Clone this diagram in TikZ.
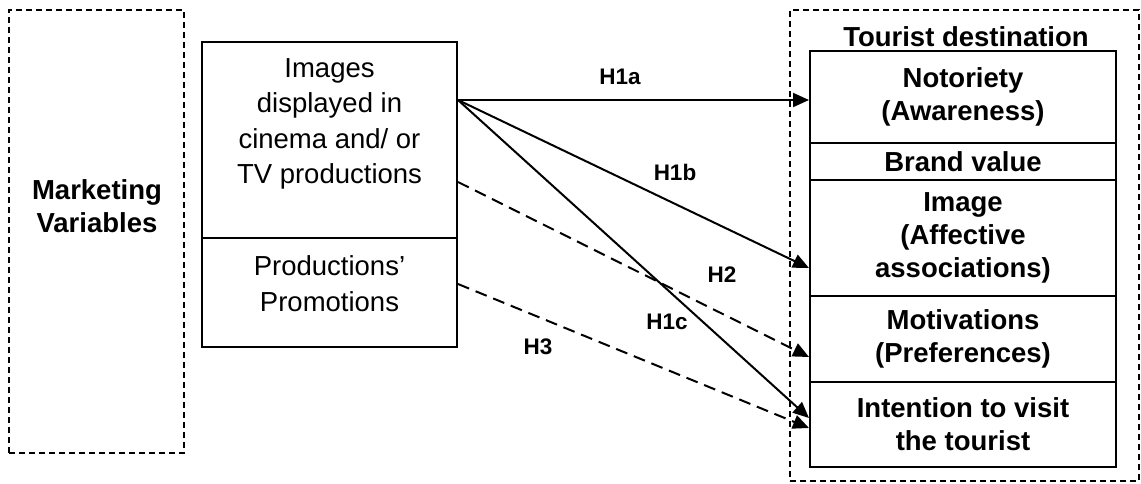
\documentclass[tikz,border=0pt]{standalone}
\usepackage{fontspec}
\setmainfont{Liberation Sans}
\usetikzlibrary{arrows.meta}

\tikzset{
  dashbox/.style={draw, line width=2pt, dash pattern=on 6pt off 4pt, inner sep=0pt},
  varbox/.style={draw, line width=2pt, minimum width=255pt, inner sep=0pt},
  destbox/.style={draw, line width=2pt, minimum width=306pt, inner sep=0pt,
    align=center, font=\bfseries\fontsize{27.5pt}{33pt}\selectfont},
  plaintxt/.style={align=center, inner sep=0pt, font=\fontsize{27.5pt}{35.5pt}\selectfont},
  boldtxt/.style={align=center, inner sep=0pt, font=\bfseries\fontsize{27.5pt}{33pt}\selectfont},
  hyp/.style={line width=2pt, -{Triangle[length=16pt,width=14pt]}},
  weak/.style={hyp, dash pattern=on 12pt off 7pt},
  hlabel/.style={inner sep=0pt, font=\bfseries\fontsize{22.5pt}{22.5pt}\selectfont}
}

\begin{document}
\begin{tikzpicture}[x=1pt, y=-1pt]
  \useasboundingbox (0,0) rectangle (1141,483);

  % marketing variables
  \node[dashbox, minimum width=175pt, minimum height=443pt] (mkt) at (96.5,231.5) {};
  \node[boldtxt] (mkttxt) at (97,206) {Marketing\\Variables};

  \node[varbox, minimum height=196pt] (img) at (329.5,140) {};
  \node[varbox, minimum height=109pt] (prod) at (329.5,292.5) {};
  \node[plaintxt] (imgtxt) at (329.5,124) {Images\\displayed in\\cinema and/ or\\TV productions};
  \node[plaintxt] (prodtxt) at (329.5,283.5) {Productions’\\Promotions};

  % tourist destination
  \node[dashbox, minimum width=349pt, minimum height=471pt] (dest) at (964.5,245.5) {};
  \node[boldtxt] (desttxt) at (966,36.5) {Tourist destination};
  \node[destbox, minimum height=92pt] (notor) at (963,97) {Notoriety\\(Awareness)};
  \node[destbox, minimum height=37pt] (brand) at (963,161.5) {Brand value};
  \node[destbox, minimum height=116pt] (image) at (963,238) {Image\\(Affective\\associations)};
  \node[destbox, minimum height=86pt] (motiv) at (963,339) {Motivations\\(Preferences)};
  \node[destbox, minimum height=85pt] (intent) at (963,424.5) {Intention to visit\\the tourist};

  \draw[hyp] ([yshift=40pt]img.east) -- ([yshift=-3pt]notor.west);
  \draw[hyp] ([yshift=40pt]img.east) -- ([yshift=-30pt]image.west);
  \draw[hyp] ([yshift=40pt]img.east) -- ([yshift=6.5pt]intent.west);
  \draw[weak] ([yshift=-42pt]img.east) -- ([yshift=-18pt]motiv.west);
  \draw[weak] ([yshift=8.5pt]prod.east) -- ([yshift=-3.5pt]intent.west);

  \node[hlabel] (h1a) at (620,77) {H1a};
  \node[hlabel] (h1b) at (675,172) {H1b};
  \node[hlabel] (h2) at (722,275) {H2};
  \node[hlabel] (h1c) at (667,322) {H1c};
  \node[hlabel] (h3) at (538,347) {H3};
\end{tikzpicture}
\end{document}
